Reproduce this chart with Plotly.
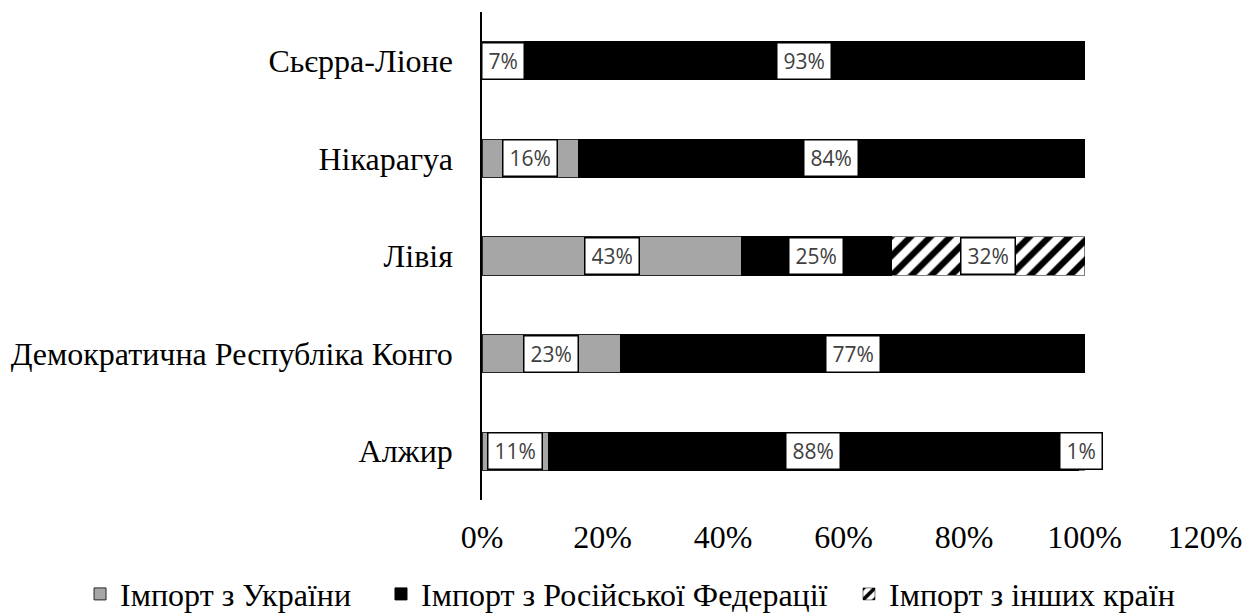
import plotly.graph_objects as go

countries = ["Сьєрра-Ліоне", "Нікарагуа", "Лівія", "Демократична Республіка Конго", "Алжир"]
ukraine = [7, 16, 43, 23, 11]
russia = [93, 84, 25, 77, 88]
other = [0, 0, 32, 0, 1]
series_names = ["Імпорт з України", "Імпорт з Російської Федерації", "Імпорт з інших країн"]
x_ticks = [0, 20, 40, 60, 80, 100, 120]
x_tick_labels = ["0%", "20%", "40%", "60%", "80%", "100%", "120%"]

fig = go.Figure()
fig.add_trace(go.Bar(
    y=countries, x=ukraine, orientation="h", name=series_names[0],
    marker=dict(color="#A6A6A6", line=dict(color="#262626", width=1)),
    width=0.39, legend="legend",
))
fig.add_trace(go.Bar(
    y=countries, x=russia, orientation="h", name=series_names[1],
    marker=dict(color="#000000", line=dict(color="#000000", width=1)),
    width=0.39, legend="legend2",
))
fig.add_trace(go.Bar(
    y=countries, x=other, orientation="h", name=series_names[2],
    marker=dict(color="#FFFFFF", line=dict(color="#000000", width=0.5),
                pattern=dict(shape="/", fgcolor="#000000", bgcolor="#FFFFFF",
                             fgopacity=1, size=14, solidity=0.45)),
    width=0.39, legend="legend3",
))

# data labels with white boxes
label_font = dict(family="Open Sans", size=21, color="#404040")
for i, c in enumerate(countries):
    starts = [0, ukraine[i], ukraine[i] + russia[i]]
    vals = [ukraine[i], russia[i], other[i]]
    for s, v in zip(starts, vals):
        if v <= 0:
            continue
        fig.add_annotation(
            x=s + v / 2, y=c, xref="x", yref="y",
            text=f"{v}%", showarrow=False, font=label_font, height=23,
            bgcolor="#FFFFFF", bordercolor="#000000", borderwidth=1.5, borderpad=6,
        )

serif = "Liberation Serif, Times New Roman, serif"
legend_common = dict(
    orientation="h", xref="container", yref="container",
    xanchor="left", y=0.047, yanchor="middle",
    font=dict(family=serif, size=32, color="#000000"),
    itemwidth=30, bgcolor="rgba(0,0,0,0)", borderwidth=0,
)
fig.update_layout(
    barmode="stack",
    width=1255, height=615,
    paper_bgcolor="#FFFFFF", plot_bgcolor="#FFFFFF",
    margin=dict(l=474, r=58, t=4, b=123),
    font=dict(family=serif, size=32, color="#000000"),
    xaxis=dict(
        range=[0, 120], tickvals=x_ticks, ticktext=x_tick_labels,
        showgrid=False, zeroline=False, showline=False, ticks="",
        ticklabelstandoff=15,
        tickfont=dict(family=serif, size=32, color="#000000"),
    ),
    yaxis=dict(
        autorange="reversed", showgrid=False, zeroline=False,
        showline=True, linecolor="#000000", linewidth=1.5, ticks="",
        ticklabelstandoff=21,
        tickfont=dict(family=serif, size=32, color="#000000"),
    ),
    legend=dict(legend_common, x=0.0574),
    legend2=dict(legend_common, x=0.2972),
    legend3=dict(legend_common, x=0.6701),
    showlegend=True,
)

fig.write_html("out.html")
